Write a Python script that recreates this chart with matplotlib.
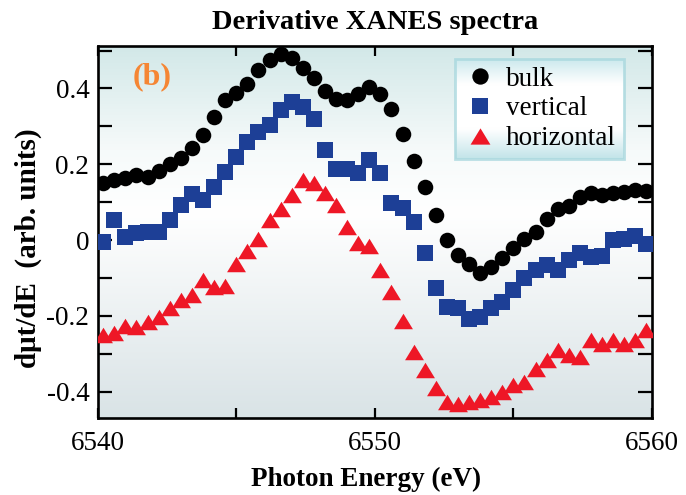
import numpy as np
import matplotlib
matplotlib.use("Agg")
import matplotlib.pyplot as plt
from matplotlib.colors import LinearSegmentedColormap
from matplotlib.ticker import MultipleLocator


plt.rcParams["font.family"] = ["Liberation Serif", "DejaVu Serif"]

# photon energy grid (eV)
energy = [
    6540.2, 6540.6, 6541.0, 6541.4, 6541.8, 6542.2, 6542.6, 6543.0, 6543.4, 6543.8,
    6544.2, 6544.6, 6545.0, 6545.4, 6545.8, 6546.2, 6546.6, 6547.0, 6547.4, 6547.8,
    6548.2, 6548.6, 6549.0, 6549.4, 6549.8, 6550.2, 6550.6, 6551.0, 6551.4, 6551.8,
    6552.2, 6552.6, 6553.0, 6553.4, 6553.8, 6554.2, 6554.6, 6555.0, 6555.4, 6555.8,
    6556.2, 6556.6, 6557.0, 6557.4, 6557.8, 6558.2, 6558.6, 6559.0, 6559.4, 6559.8,
]

bulk = [
    0.150, 0.158, 0.165, 0.172, 0.167, 0.183, 0.200, 0.216, 0.242, 0.277,
    0.325, 0.369, 0.387, 0.413, 0.449, 0.475, 0.490, 0.479, 0.453, 0.427,
    0.394, 0.371, 0.369, 0.385, 0.405, 0.385, 0.347, 0.280, 0.209, 0.141,
    0.066, 0.000, -0.038, -0.064, -0.088, -0.072, -0.048, -0.022, 0.002, 0.022,
    0.055, 0.082, 0.091, 0.113, 0.125, 0.119, 0.123, 0.126, 0.132, 0.130,
]

vertical = [
    -0.004, 0.053, 0.009, 0.018, 0.022, 0.022, 0.053, 0.092, 0.121, 0.107,
    0.141, 0.180, 0.220, 0.259, 0.286, 0.303, 0.343, 0.365, 0.352, 0.319,
    0.237, 0.187, 0.187, 0.178, 0.211, 0.176, 0.097, 0.084, 0.048, -0.035,
    -0.127, -0.176, -0.180, -0.207, -0.202, -0.180, -0.163, -0.132, -0.101, -0.079,
    -0.066, -0.079, -0.053, -0.033, -0.044, -0.042, 0.000, 0.004, 0.011, -0.009,
]

horizontal = [
    -0.251, -0.245, -0.227, -0.230, -0.216, -0.202, -0.180, -0.158, -0.145, -0.106,
    -0.123, -0.121, -0.063, -0.028, 0.002, 0.053, 0.081, 0.119, 0.158, 0.151,
    0.123, 0.092, 0.035, -0.007, -0.016, -0.079, -0.138, -0.213, -0.295, -0.343,
    -0.391, -0.427, -0.433, -0.427, -0.422, -0.413, -0.400, -0.383, -0.374, -0.339,
    -0.317, -0.290, -0.303, -0.308, -0.264, -0.274, -0.264, -0.273, -0.264, -0.237,
]

BLUE = "#1d3f96"
RED = "#ee1726"
ORANGE = "#f58634"

# wide, flat triangle like the original marker
tri = [(-1.0, -0.82), (1.0, -0.82), (0.0, 0.82), (-1.0, -0.82)]

fig = plt.figure(figsize=(6.86, 4.95), dpi=100)
ax = fig.add_axes([0.1424, 0.1549, 0.8080, 0.7522])

# soft vertical gradient behind the data
bg = LinearSegmentedColormap.from_list(
    "bg", [(0.0, "#d9e3e6"), (0.55, "#ffffff"), (0.72, "#f6fafa"), (1.0, "#d2e8e8")])
grad = np.linspace(0, 1, 256).reshape(-1, 1)
ax.imshow(grad, cmap=bg, origin="lower", extent=[0, 1, 0, 1], transform=ax.transAxes,
          aspect="auto", zorder=0, interpolation="bicubic")

ax.plot(energy, bulk, linestyle="none", marker="o", markersize=11.2, color="black",
        markeredgewidth=0, label="bulk", zorder=3)
ax.plot(energy, vertical, linestyle="none", marker="s", markersize=11.6, color=BLUE,
        markeredgewidth=0, label="vertical", zorder=3)
ax.plot(energy, horizontal, linestyle="none", marker=tri, markersize=13.6, color=RED,
        markeredgewidth=0, label="horizontal", zorder=3)

ax.set_xlim(6540, 6560)
ax.set_ylim(-0.470, 0.512)

ax.xaxis.set_major_locator(MultipleLocator(10))
ax.xaxis.set_minor_locator(MultipleLocator(5))
ax.yaxis.set_major_locator(MultipleLocator(0.2))
ax.yaxis.set_minor_locator(MultipleLocator(0.1))
ax.yaxis.set_major_formatter(plt.FuncFormatter(lambda v, p: "0" if abs(v) < 1e-9 else f"{v:.1f}"))

ax.tick_params(axis="both", which="both", direction="in", top=True, right=True,
               width=1.6, labelsize=19.5)
ax.tick_params(axis="y", which="both", length=10, pad=6)
ax.tick_params(axis="x", which="both", length=7, pad=9)
for spine in ax.spines.values():
    spine.set_linewidth(1.9)

ax.set_title("Derivative XANES spectra", fontsize=20.5, fontweight="bold", pad=12)
ax.set_xlabel("Photon Energy (eV)", fontsize=19.5, fontweight="bold")
ax.xaxis.set_label_coords(0.484, -0.13)
ax.set_ylabel("dμt/dE  (arb. units)", fontsize=21, fontweight="bold")
ax.yaxis.set_label_coords(-0.1, 0.456)

ax.text(0.098, 0.917, "(b)", transform=ax.transAxes, fontsize=23, fontweight="bold",
        color=ORANGE, ha="center", va="center", zorder=4)

leg = ax.legend(loc="upper left", bbox_to_anchor=(0.645, 0.965), borderaxespad=0,
                fontsize=19.5, frameon=True, fancybox=False, handlelength=1.3,
                handletextpad=0.3, labelspacing=0.18, borderpad=0.28, markerscale=1.05)
leg.set_zorder(6)
frame = leg.get_frame()
frame.set_facecolor("none")
frame.set_edgecolor("#a9d8de")
frame.set_linewidth(2.0)

# gradient fill inside the legend box
fig.canvas.draw()
bb = leg.get_window_extent().transformed(ax.transAxes.inverted())
lg = LinearSegmentedColormap.from_list(
    "lg", [(0.0, "#c2e4e9"), (0.3, "#ffffff"), (0.75, "#ffffff"), (1.0, "#cce9ed")])
ax.imshow(grad, cmap=lg, origin="lower", extent=[bb.x0, bb.x1, bb.y0, bb.y1],
          transform=ax.transAxes, aspect="auto", zorder=5, interpolation="bicubic")
ax.set_xlim(6540, 6560)
ax.set_ylim(-0.470, 0.512)

fig.savefig("out.png", dpi=100)
